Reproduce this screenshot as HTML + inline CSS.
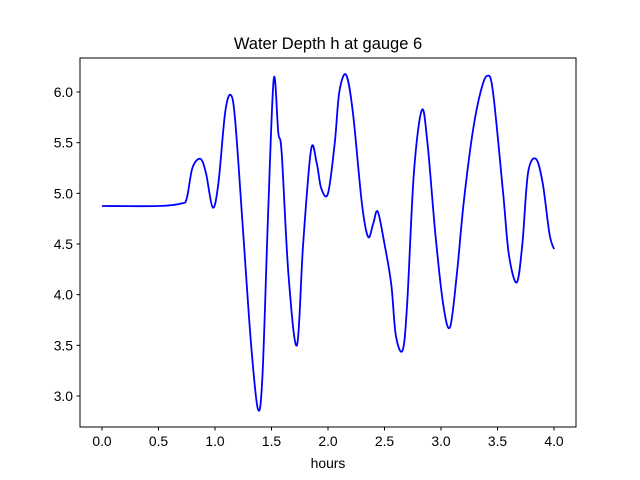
<!DOCTYPE html>
<html><head><meta charset="utf-8">
<style>
html,body{margin:0;padding:0;background:#fff;}
svg{display:block;font-family:"Liberation Sans","DejaVu Sans",sans-serif;}
</style></head>
<body>
<svg id="chart" width="640" height="480" viewBox="0 0 640 480">
<rect x="0" y="0" width="640" height="480" fill="#fff"/>
<text x="328" y="49" font-size="16.5" text-anchor="middle" fill="#000">Water Depth h at gauge 6</text>
<g id="xticks"></g>
<g id="yticks"></g>
<path id="line" fill="none" stroke="#0000ff" stroke-width="1.8" stroke-linejoin="round"/>
<rect x="80" y="58" width="496" height="369" fill="none" stroke="#000" stroke-width="1"/>
<text x="328" y="468" font-size="13.9" text-anchor="middle" fill="#000">hours</text>
</svg>
<script>
const hours = [0,0.5,0.7,0.75,0.8,0.87,0.92,0.98,1.03,1.09,1.14,1.18,1.25,1.32,1.38,1.42,1.47,1.52,1.56,1.59,1.65,1.725,1.78,1.85,1.9,1.94,2.0,2.06,2.1,2.16,2.22,2.3,2.355,2.4,2.44,2.5,2.56,2.6,2.66,2.7,2.76,2.83,2.88,2.95,3.02,3.08,3.14,3.2,3.28,3.35,3.41,3.46,3.55,3.6,3.67,3.72,3.77,3.84,3.9,3.96,4.0];
const depth = [4.875,4.875,4.9,4.95,5.25,5.34,5.2,4.86,5.1,5.8,5.97,5.7,4.6,3.5,2.87,3.2,4.8,6.13,5.6,5.4,4.2,3.5,4.5,5.43,5.3,5.05,5.0,5.5,6.0,6.17,5.8,4.9,4.57,4.7,4.82,4.5,4.1,3.6,3.45,3.9,5.2,5.82,5.5,4.6,3.9,3.68,4.2,4.9,5.6,6.0,6.16,6.0,5.0,4.4,4.12,4.5,5.2,5.34,5.1,4.6,4.45];
const xTicks = [0,0.5,1.0,1.5,2.0,2.5,3.0,3.5,4.0];
const yTicks = [3.0,3.5,4.0,4.5,5.0,5.5,6.0];

const NS="http://www.w3.org/2000/svg";
function xs(v){return 102+v*113;}
function ys(v){return 396-(v-3)*101.33;}

const xg=document.getElementById('xticks');
xTicks.forEach(t=>{
  const l=document.createElementNS(NS,'line');
  l.setAttribute('x1',xs(t));l.setAttribute('x2',xs(t));l.setAttribute('y1',427);l.setAttribute('y2',430.5);l.setAttribute('stroke','#000');
  
  
  xg.appendChild(l);
  const tx=document.createElementNS(NS,'text');
  tx.setAttribute('x',xs(t));tx.setAttribute('y',446);tx.setAttribute('font-size','13.9');tx.setAttribute('text-anchor','middle');
  tx.textContent=t.toFixed(1);
  
  
  xg.appendChild(tx);
});
const yg=document.getElementById('yticks');
yTicks.forEach(t=>{
  const l=document.createElementNS(NS,'line');
  l.setAttribute('x1',76.5);l.setAttribute('x2',80);l.setAttribute('y1',ys(t));l.setAttribute('y2',ys(t));l.setAttribute('stroke','#000');
  
  
  yg.appendChild(l);
  const tx=document.createElementNS(NS,'text');
  tx.setAttribute('x',73);tx.setAttribute('y',ys(t)+5);tx.setAttribute('font-size','13.9');tx.setAttribute('text-anchor','end');
  tx.textContent=t.toFixed(1);
  
  
  yg.appendChild(tx);
});

const P=hours.map((h,i)=>[xs(h),ys(depth[i])]);
let d='M'+P[0][0]+','+P[0][1];
for(let i=0;i<P.length-1;i++){
  const p0=P[Math.max(0,i-1)],p1=P[i],p2=P[i+1],p3=P[Math.min(P.length-1,i+2)];
  const c1=[p1[0]+(p2[0]-p0[0])/6,p1[1]+(p2[1]-p0[1])/6];
  const c2=[p2[0]-(p3[0]-p1[0])/6,p2[1]-(p3[1]-p1[1])/6];
  d+=' C'+c1[0]+','+c1[1]+' '+c2[0]+','+c2[1]+' '+p2[0]+','+p2[1];
}
document.getElementById('line').setAttribute('d',d);
</script>
</body></html>
